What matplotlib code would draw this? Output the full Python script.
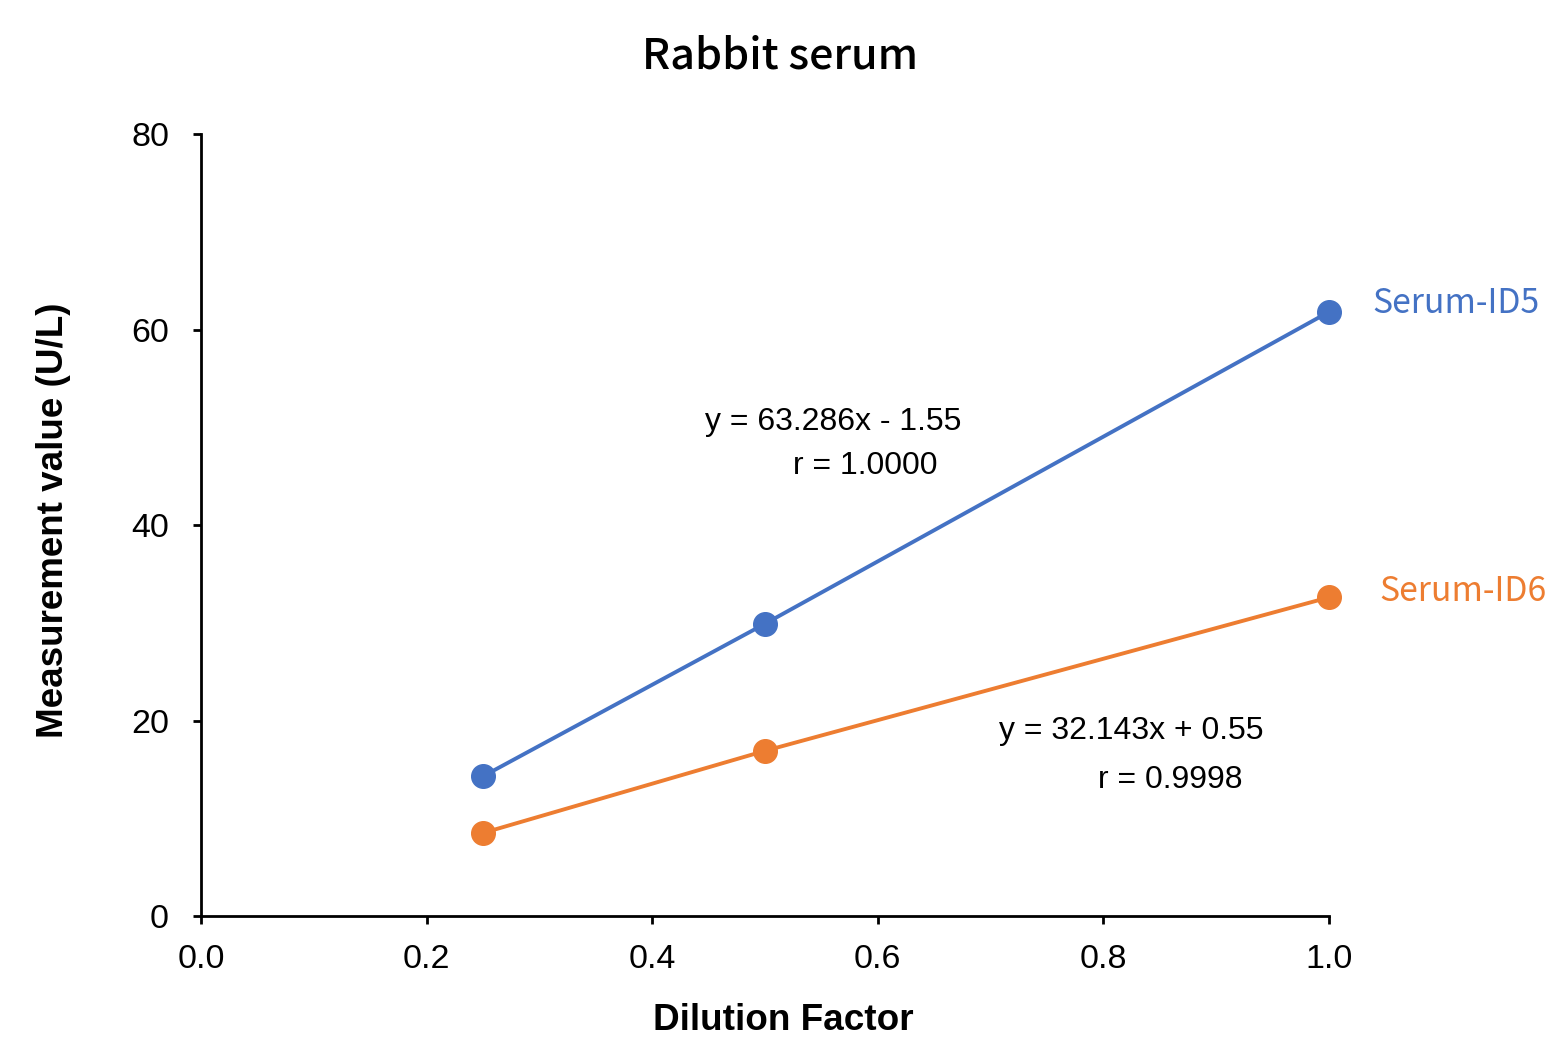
import matplotlib
matplotlib.use("Agg")
import matplotlib.pyplot as plt

dilution = [0.25, 0.5, 1.0]
id5_values = [14.3, 29.9, 61.8]
id6_values = [8.5, 16.9, 32.6]
series_names = ["Serum-ID5", "Serum-ID6"]
eq_id5 = ["y = 63.286x - 1.55", "r = 1.0000"]
eq_id6 = ["y = 32.143x + 0.55", "r = 0.9998"]
xticks = [0.0, 0.2, 0.4, 0.6, 0.8, 1.0]
yticks = [0, 20, 40, 60, 80]

blue = "#4472C4"
orange = "#ED7D31"
jp = ['Noto Sans CJK JP', 'DejaVu Sans']

plt.rcParams['font.family'] = ['Liberation Sans', 'DejaVu Sans']

fig = plt.figure(figsize=(15.5, 10.6), dpi=100)
ax = fig.add_axes([0.1297, 0.1358, 0.7277, 0.7378])

ax.plot(dilution, id5_values, color=blue, lw=2.8, marker='o', ms=17, zorder=3, clip_on=False)
ax.plot(dilution, id6_values, color=orange, lw=2.8, marker='o', ms=17, zorder=3, clip_on=False)

ax.set_xlim(0, 1.0)
ax.set_ylim(0, 80)
ax.set_xticks(xticks)
ax.set_xticklabels([f"{v:.1f}" for v in xticks])
ax.set_yticks(yticks)
ax.tick_params(axis='both', direction='out', length=6, width=2, labelsize=24.5)
ax.tick_params(axis='x', pad=14)
ax.tick_params(axis='y', pad=17)
for s in ['top', 'right']:
    ax.spines[s].set_visible(False)
for s in ['left', 'bottom']:
    ax.spines[s].set_linewidth(2)

fig.text(0.5052, 0.0377, "Dilution Factor", fontsize=26.6, fontweight='bold', ha='center', va='center')
fig.text(0.0345, 0.5094, "Measurement value (U/L)", fontsize=26.5, fontweight='bold',
         ha='center', va='center', rotation=90)
fig.text(0.503, 0.947, "Rabbit serum", ha='center', va='center', fontsize=31,
         fontweight='medium', family=jp)

ax.annotate(series_names[0], xy=(dilution[-1], id5_values[-1]), xytext=(31, 5.8),
            textcoords='offset points', color=blue, fontsize=24.3, ha='left', va='center',
            family=jp)
ax.annotate(series_names[1], xy=(dilution[-1], id6_values[-1]), xytext=(36, 4.3),
            textcoords='offset points', color=orange, fontsize=24.3, ha='left', va='center',
            family=jp)

ax.text(0.4468, 50.5, eq_id5[0], fontsize=23, ha='left', va='center')
ax.text(0.5248, 46.0, eq_id5[1], fontsize=23, ha='left', va='center')
ax.text(0.7074, 18.9, eq_id6[0], fontsize=23, ha='left', va='center')
ax.text(0.7952, 13.9, eq_id6[1], fontsize=23, ha='left', va='center')

fig.savefig("out.png", dpi=100)
